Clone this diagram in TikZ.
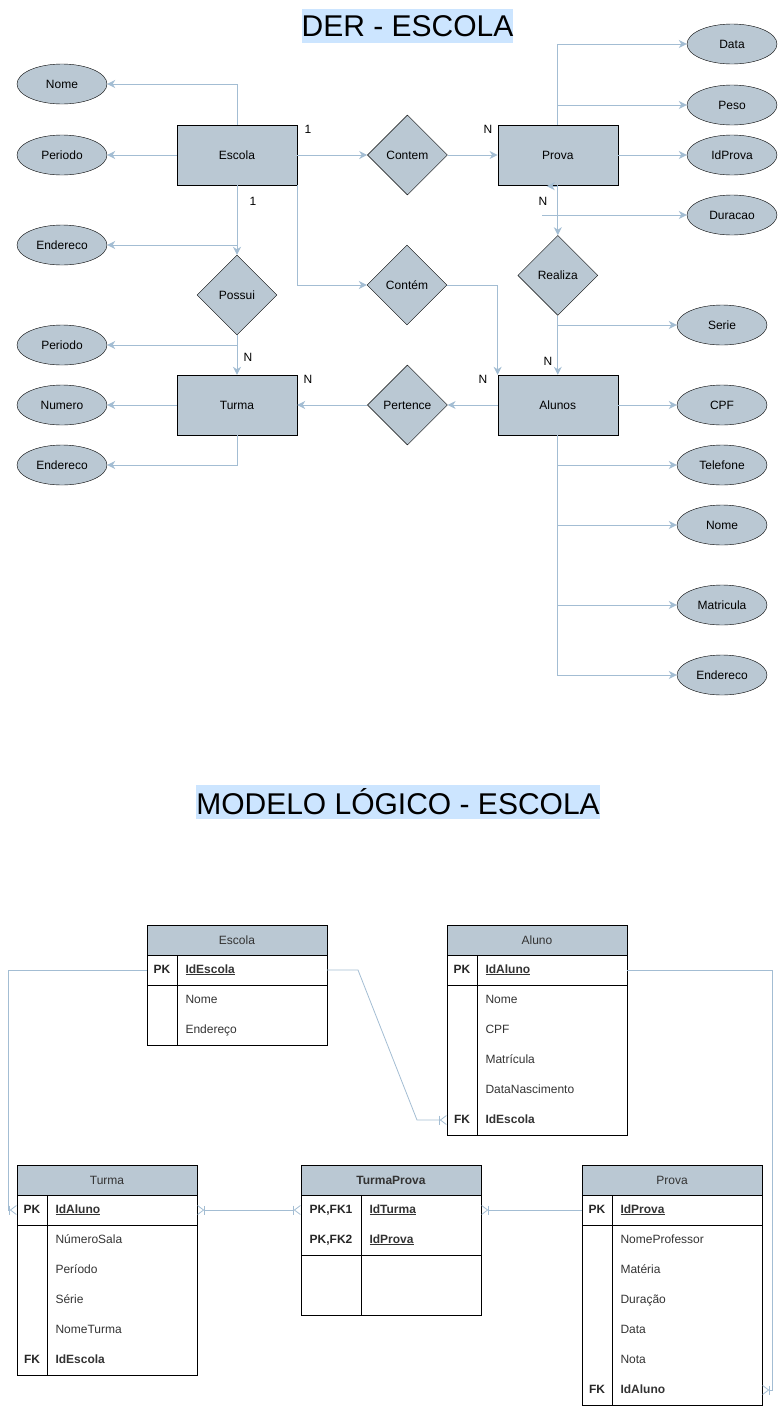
\documentclass[tikz,border=0pt]{standalone}
\usepackage{fontspec}
\setmainfont{Liberation Sans}
\usepackage{xcolor}
\usetikzlibrary{arrows.meta,positioning,shapes.geometric}
\definecolor{boxfill}{HTML}{BAC8D3}
\definecolor{linkc}{HTML}{A3BDD3}
\definecolor{titlebg}{HTML}{CCE5FF}
\newcommand{\erfont}{\fontsize{12}{14}\selectfont}
\tikzset{
  entbox/.style={draw=black, fill=boxfill, minimum width=120pt, minimum height=60pt, inner sep=0pt, font=\erfont},
  relbox/.style={diamond, draw=black, fill=boxfill, minimum width=80pt, minimum height=80pt, inner sep=0pt, font=\erfont},
  attrbox/.style={ellipse, draw=black, fill=boxfill, minimum width=90pt, minimum height=40pt, inner sep=0pt, font=\erfont},
  card/.style={inner sep=1pt, font=\erfont},
  titlebox/.style={fill=titlebg, inner xsep=0pt, inner ysep=0pt, minimum height=34pt, font=\fontsize{30}{34}\selectfont},
  farr/.style={draw=linkc, line width=1pt, -{Stealth[length=8pt, width=8pt, inset=2.5pt]}},
  rlink/.style={draw=linkc, line width=0.8pt},
  crowe/.style={-{Bar[width=9pt] Straight Barb[reversed, length=6pt, width=9pt]}},
  crows/.style={{Straight Barb[reversed, length=6pt, width=9pt] Bar[width=9pt]}-},
  crowb/.style={{Straight Barb[reversed, length=6pt, width=9pt] Bar[width=9pt]}-{Bar[width=9pt] Straight Barb[reversed, length=6pt, width=9pt]}},
  thead/.style={draw=black, fill=boxfill, minimum width=180pt, minimum height=30pt, inner sep=0pt, text=black!80, font=\erfont},
  tkey/.style={minimum width=30pt, minimum height=30pt, inner sep=0pt, text height=9pt, text depth=3pt, text=black!85, font=\erfont\bfseries},
  tfield/.style={minimum height=30pt, text width=133pt, inner xsep=8.5pt, inner ysep=0pt, text height=9pt, text depth=3pt, align=left, text=black!80, font=\erfont}
}

\begin{document}
\begin{tikzpicture}[x=1pt, y=-1pt]
\useasboundingbox (0,0) rectangle (781,1406);
% titulos
\node[titlebox] (tder) at (407.5,26) {DER - ESCOLA};
\node[titlebox] (tlog) at (398,801.5) {MODELO LÓGICO - ESCOLA};

% DER: entidades e relacionamentos
\node[entbox] (escola) at (237,155) {Escola};
\node[relbox, right=70pt of escola] (contem) {Contem};
\node[entbox, right=50pt of contem] (prova) {Prova};
\node[relbox] (possui) at (237,295) {Possui};
\node[relbox] (contem2) at (407,285) {Contém};
\node[relbox, below=50pt of prova] (realiza) {Realiza};
\node[entbox] (turma) at (237,405) {Turma};
\node[relbox, right=70pt of turma] (pertence) {Pertence};
\node[entbox, right=50pt of pertence] (alunos) {Alunos};

% atributos
\node[attrbox] (esc-nome) at (62,84) {Nome};
\node[attrbox] (esc-per) at (62,155) {Periodo};
\node[attrbox] (esc-end) at (62,245) {Endereco};
\node[attrbox] (tur-per) at (62,345) {Periodo};
\node[attrbox] (tur-num) at (62,405) {Numero};
\node[attrbox] (tur-end) at (62,465) {Endereco};
\node[attrbox] (pro-data) at (732,44) {Data};
\node[attrbox] (pro-peso) at (732,105) {Peso};
\node[attrbox] (pro-id) at (732,155) {IdProva};
\node[attrbox] (pro-dur) at (732,215) {Duracao};
\node[attrbox] (rea-serie) at (722,325) {Serie};
\node[attrbox] (alu-cpf) at (722,405) {CPF};
\node[attrbox] (alu-tel) at (722,465) {Telefone};
\node[attrbox] (alu-nome) at (722,525) {Nome};
\node[attrbox] (alu-mat) at (722,605) {Matricula};
\node[attrbox] (alu-end) at (722,675) {Endereco};

% cardinalidades
\node[card] (c1) at (308,129) {1};
\node[card] (c2) at (488,129) {N};
\node[card] (c3) at (253,201) {1};
\node[card] (c4) at (543,201) {N};
\node[card] (c5) at (248,357) {N};
\node[card] (c6) at (308,379) {N};
\node[card] (c7) at (483,379) {N};
\node[card] (c8) at (548,361) {N};

% ligacoes DER
\draw[farr] (escola.north) |- (esc-nome.east);
\draw[farr] (escola.west) -- (esc-per.east);
\draw[farr] (escola.east) -- (contem.west);
\draw[farr] (contem.east) -- (prova.west);
\draw[farr] (escola.south) -- (possui.north);
\draw[farr] (escola.south |- esc-end) -- (esc-end.east);
\draw[farr] (escola.south east) |- (contem2.west);
\draw[farr] (contem2.east) -| (alunos.north west);
\draw[farr] (possui.south) -- (turma.north);
\draw[farr] (possui.south |- tur-per) -- (tur-per.east);
\draw[farr] (alunos.west) -- (pertence.east);
\draw[farr] (pertence.west) -- (turma.east);
\draw[farr] (turma.west) -- (tur-num.east);
\draw[farr] (turma.south) |- (tur-end.east);
\draw[farr] (prova.north) |- (pro-data.west);
\draw[farr] (prova.north |- pro-peso) -- (pro-peso.west);
\draw[farr] (prova.east) -- (pro-id.west);
\coordinate (dur0) at (542,215);
\draw[farr] (dur0) -- (pro-dur.west);
\draw[farr] ([yshift=-1pt]prova.south) -- ++(-11,0);
\draw[farr] (prova.south) -- (realiza.north);
\draw[farr] (realiza.south) -- (alunos.north);
\draw[farr] (realiza.south |- rea-serie) -- (rea-serie.west);
\draw[farr] (alunos.east) -- (alu-cpf.west);
\draw[farr] (alunos.south |- alu-tel) -- (alu-tel.west);
\draw[farr] (alunos.south |- alu-nome) -- (alu-nome.west);
\draw[farr] (alunos.south |- alu-mat) -- (alu-mat.west);
\draw[farr] (alunos.south) |- (alu-end.west);

% modelo logico: Escola
\node[thead] (tesc) at (237,940) {Escola};
\node[tkey, draw] (tesc-k) at (162,970) {PK};
\node[tfield, draw] (tesc-id) at (252,970) {\textbf{\underline{IdEscola}}};
\foreach \campo [count=\i] in {Nome, Endereço}
  \node[tfield] (tesc-f\i) at (252,985+30*\i-15) {\campo};
\draw (tesc-k.south west) rectangle (tesc-f2.south east);
\draw (tesc-k.south east) -- (tesc-k.south east |- tesc-f2.south);

% Aluno
\node[thead] (talu) at (537,940) {Aluno};
\node[tkey, draw] (talu-k) at (462,970) {PK};
\node[tfield, draw] (talu-id) at (552,970) {\textbf{\underline{IdAluno}}};
\foreach \campo [count=\i] in {Nome, CPF, Matrícula, DataNascimento}
  \node[tfield] (talu-f\i) at (552,985+30*\i-15) {\campo};
\node[tkey] (talu-fk) at (462,1120) {FK};
\node[tfield] (talu-f5) at (552,1120) {\textbf{IdEscola}};
\draw (talu-k.south west) rectangle (talu-f5.south east);
\draw (talu-k.south east) -- (talu-k.south east |- talu-f5.south);

% Turma
\node[thead] (ttur) at (107,1180) {Turma};
\node[tkey, draw] (ttur-k) at (32,1210) {PK};
\node[tfield, draw] (ttur-id) at (122,1210) {\textbf{\underline{IdAluno}}};
\foreach \campo [count=\i] in {NúmeroSala, Período, Série, NomeTurma}
  \node[tfield] (ttur-f\i) at (122,1225+30*\i-15) {\campo};
\node[tkey] (ttur-fk) at (32,1360) {FK};
\node[tfield] (ttur-f5) at (122,1360) {\textbf{IdEscola}};
\draw (ttur-k.south west) rectangle (ttur-f5.south east);
\draw (ttur-k.south east) -- (ttur-k.south east |- ttur-f5.south);

% TurmaProva
\node[thead, font=\erfont\bfseries] (ttp) at (391,1180) {TurmaProva};
\node[tkey, minimum width=60pt] (ttp-k1) at (331,1210) {PK,FK1};
\node[tfield, text width=103pt] (ttp-f1) at (421,1210) {\textbf{\underline{IdTurma}}};
\node[tkey, minimum width=60pt] (ttp-k2) at (331,1240) {PK,FK2};
\node[tfield, text width=103pt] (ttp-f2) at (421,1240) {\textbf{\underline{IdProva}}};
\coordinate (ttp-b) at (481,1315);
\draw (ttp.south west) rectangle (ttp-b);
\draw (ttp-k2.south west) -- (ttp-f2.south east);
\draw (ttp-k1.north east) -- (ttp-k1.east |- ttp-b);

% Prova
\node[thead] (tpro) at (672,1180) {Prova};
\node[tkey, draw] (tpro-k) at (597,1210) {PK};
\node[tfield, draw] (tpro-id) at (687,1210) {\textbf{\underline{IdProva}}};
\foreach \campo [count=\i] in {NomeProfessor, Matéria, Duração, Data, Nota}
  \node[tfield] (tpro-f\i) at (687,1225+30*\i-15) {\campo};
\node[tkey] (tpro-fk) at (597,1390) {FK};
\node[tfield] (tpro-f6) at (687,1390) {\textbf{IdAluno}};
\draw (tpro-k.south west) rectangle (tpro-f6.south east);
\draw (tpro-k.south east) -- (tpro-k.south east |- tpro-f6.south);

% relacionamentos do modelo logico
\coordinate (r1) at (8,970);
\draw[rlink, crowe] (tesc-k.west) -- (r1) |- (ttur-k.west);
\coordinate (r2) at (358,970);
\coordinate (r3) at (417,1120);
\draw[rlink, crowe] (tesc-id.east) -- (r2) -- (r3) -- (talu-fk.west);
\coordinate (r4) at (772,970);
\draw[rlink, crowe] (talu-id.east) -- (r4) |- (tpro-f6.east);
\draw[rlink, crowb] (ttur-id.east) -- (ttp-k1.west);
\draw[rlink, crows] (ttp-f1.east) -- (tpro-k.west);
\end{tikzpicture}
\end{document}
